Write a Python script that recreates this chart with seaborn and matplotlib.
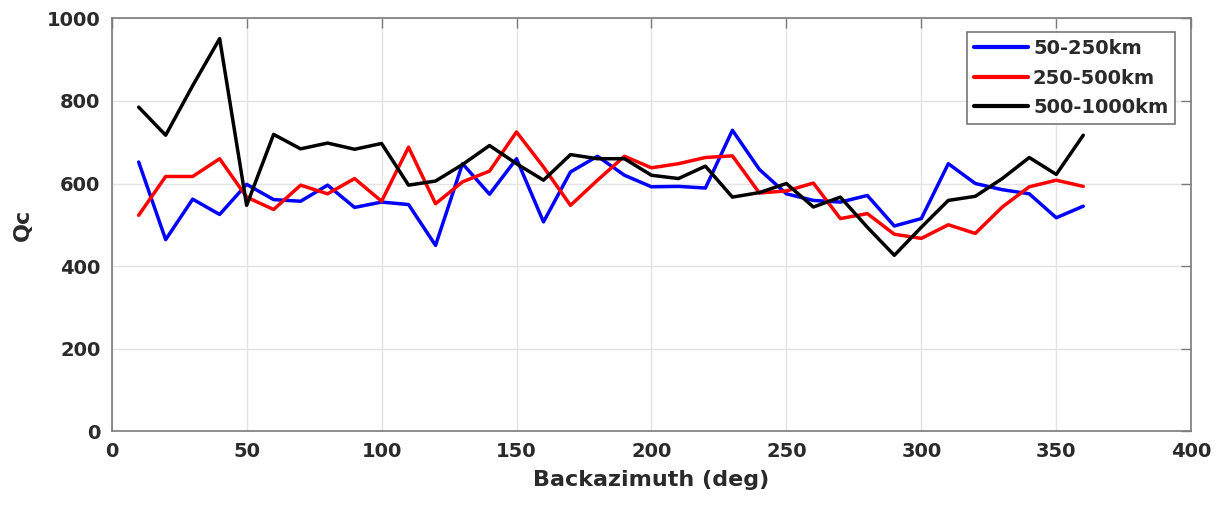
import numpy as np
import pandas as pd
import matplotlib
matplotlib.use("Agg")
import matplotlib.pyplot as plt
import seaborn as sns

backazimuth = list(range(10, 370, 10))

qc_50_250 = [652, 464, 562, 525, 598, 561, 557, 596, 542, 555,
             549, 450, 648, 574, 660, 507, 628, 666, 620, 592,
             593, 589, 729, 634, 575, 559, 555, 571, 497, 515,
             648, 600, 585, 575, 517, 545]
qc_250_500 = [523, 617, 617, 660, 567, 537, 596, 575, 612, 557,
              688, 551, 604, 630, 725, 640, 547, 608, 666, 638,
              648, 663, 667, 577, 582, 601, 515, 527, 477, 467,
              500, 479, 543, 592, 608, 593]
qc_500_1000 = [785, 717, 837, 951, 547, 719, 684, 698, 683, 697,
               596, 606, 646, 692, 648, 608, 670, 660, 660, 620,
               612, 642, 567, 578, 600, 543, 567, 494, 426, 494,
               559, 569, 612, 663, 622, 717]

labels = ["50-250km", "250-500km", "500-1000km"]
colors = ["#0000ff", "#ff0000", "#000000"]

df = pd.concat([
    pd.DataFrame({"Backazimuth": backazimuth, "Qc": vals, "Range": lab})
    for vals, lab in zip([qc_50_250, qc_250_500, qc_500_1000], labels)
])

sns.set_style("white")
plt.rcParams["font.family"] = ["DejaVu Sans"]
plt.rcParams["font.weight"] = "bold"

fig = plt.figure(figsize=(12.18, 5.12), dpi=100)
ax = fig.add_axes([0.0917, 0.158, 0.978 - 0.0917, 0.964 - 0.158])

sns.lineplot(data=df, x="Backazimuth", y="Qc", hue="Range",
             palette=dict(zip(labels, colors)), linewidth=2.5, ax=ax,
             sort=False)

ax.set_xlim(0, 400)
ax.set_ylim(0, 1000)
ax.set_xticks(np.arange(0, 401, 50))
ax.set_yticks(np.arange(0, 1001, 200))
ax.grid(True, color="#e3e3e3", linewidth=1.0)
ax.set_axisbelow(True)
for s in ax.spines.values():
    s.set_color("#7a7a7a")
    s.set_linewidth(1.2)
ax.tick_params(direction="in", length=7, width=1.0, colors="#7a7a7a",
               labelcolor="#2a2a2a", labelsize=14, top=True, right=True,
               labeltop=False, labelright=False, pad=8)
for lab in ax.get_xticklabels() + ax.get_yticklabels():
    lab.set_fontweight("bold")

ax.set_xlabel("Backazimuth (deg)", fontsize=16, fontweight="bold",
              color="#2a2a2a", labelpad=6)
ax.set_ylabel("Qc", fontsize=16, fontweight="bold", color="#2a2a2a",
              labelpad=10)

leg = ax.legend(loc="upper right", bbox_to_anchor=(0.985, 0.967),
                borderaxespad=0, fontsize=14, frameon=True, fancybox=False,
                handlelength=2.8, handletextpad=0.25, labelspacing=0.55,
                borderpad=0.35)
leg.get_frame().set_edgecolor("#555555")
leg.get_frame().set_linewidth(1.2)
for t in leg.get_texts():
    t.set_fontweight("bold")
    t.set_color("#2a2a2a")
for h in leg.get_lines():
    h.set_linewidth(3)

fig.savefig("out.png", dpi=100)
